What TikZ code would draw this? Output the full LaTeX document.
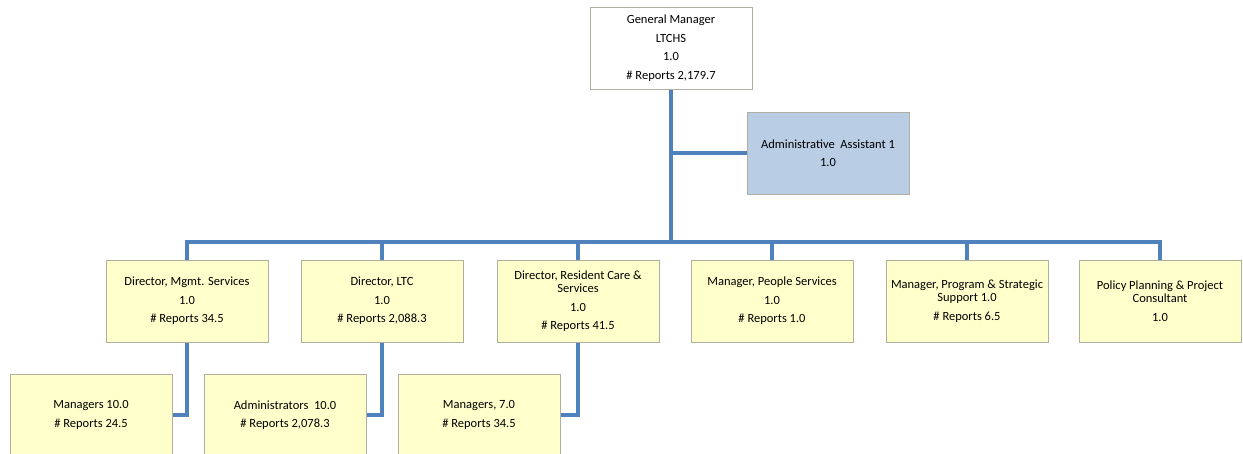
\documentclass[tikz,border=0pt]{standalone}
\usepackage{fontspec}
\setmainfont{Carlito}
\usetikzlibrary{shadows,backgrounds}
\definecolor{conn}{RGB}{79,129,189}
\definecolor{yel}{RGB}{255,255,204}
\definecolor{blu}{RGB}{185,205,229}
\definecolor{bord}{RGB}{175,175,160}
\begin{document}
\begin{tikzpicture}[x=1pt,y=-1pt,
  box/.style={draw=bord, line width=0.8pt, anchor=north west, outer sep=0pt,
    minimum width=162pt, minimum height=82pt, inner sep=0pt, align=center,
    font=\fontsize{12.5}{13.5}\selectfont,
    drop shadow={shadow xshift=1.3pt, shadow yshift=-1.3pt, fill=black!55, opacity=1}},
  ybox/.style={box, fill=yel},
  link/.style={draw=conn, line width=3.5pt}]
\useasboundingbox (0,0) rectangle (1243,454);
\clip (0,0) rectangle (1243,454);
\node[box, fill=white] (gm) at (590,7) {General Manager\\[5pt]LTCHS\\[5pt]1.0\\[5pt]\# Reports 2,179.7};
\node[box, fill=blu] (aa) at (747,112) {Administrative\ \ Assistant 1\\[5pt]1.0};
\node[ybox] (d1) at (106,260) {Director, Mgmt. Services\\[5pt]1.0\\[5pt]\# Reports 34.5};
\node[ybox] (d2) at (301,260) {Director, LTC\\[5pt]1.0\\[5pt]\# Reports 2,088.3};
\node[ybox] (d3) at (497,260) {Director, Resident Care \&\\Services\\[5pt]1.0\\[5pt]\# Reports 41.5};
\node[ybox] (d4) at (691,260) {Manager, People Services\\[5pt]1.0\\[5pt]\# Reports 1.0};
\node[ybox] (d5) at (886,260) {Manager, Program \& Strategic\\Support 1.0\\[5pt]\# Reports 6.5};
\node[ybox] (d6) at (1079,260) {Policy Planning \& Project\\Consultant\\[5pt]1.0};
\node[ybox] (m1) at (10,374) {Managers 10.0\\[5pt]\# Reports 24.5};
\node[ybox] (m2) at (204,374) {Administrators\ \ 10.0\\[5pt]\# Reports 2,078.3};
\node[ybox] (m3) at (398,374) {Managers, 7.0\\[5pt]\# Reports 34.5};
\coordinate (bus) at (670,242);
\begin{pgfonlayer}{background}
\draw[link] (gm.south) -- (gm.south |- bus);
\draw[link] (gm.south |- aa.west) -- (aa.west);
\draw[link] (d1.north) -- (d1.north |- bus) -- (d6.north |- bus) -- (d6.north);
\foreach \d in {d2,d3,d4,d5} \draw[link] (\d.north |- bus) -- (\d.north);
\draw[link] (d1.south) |- (m1.east);
\draw[link] (d2.south) |- (m2.east);
\draw[link] (d3.south) |- (m3.east);
\end{pgfonlayer}
\end{tikzpicture}
\end{document}
